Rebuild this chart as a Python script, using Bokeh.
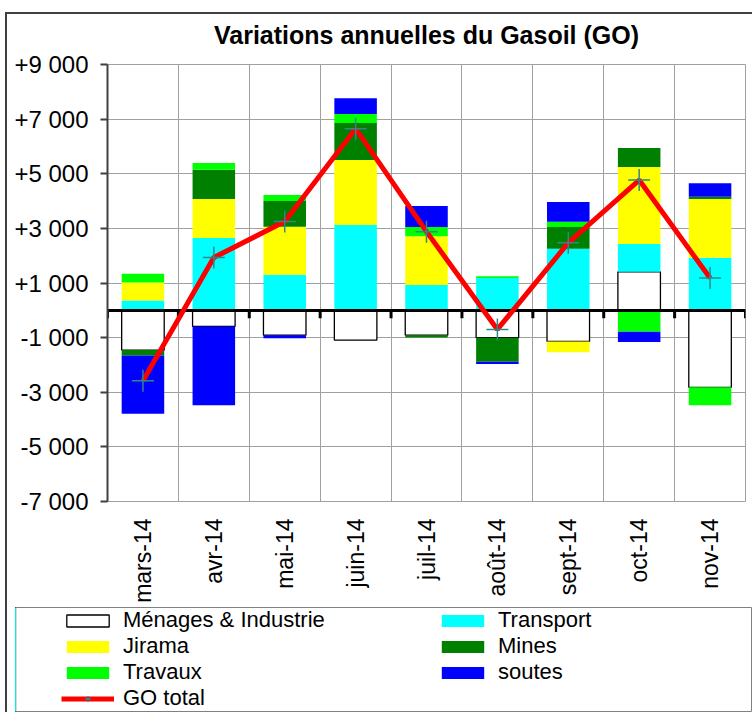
import numpy as np
from math import pi
from bokeh.plotting import figure
from bokeh.models import FixedTicker, Range1d, Legend, LegendItem
from bokeh.layouts import column
from bokeh.embed import file_html
from bokeh.resources import INLINE

# ---------------- data ----------------
months = ["mars-14", "avr-14", "mai-14", "juin-14", "juil-14",
          "août-14", "sept-14", "oct-14", "nov-14"]
menages   = [-1455, -590, -910, -1090, -910, -1005, -1140, 1410, -2820]
transport = [360, 2650, 1300, 3125, 930, 1180, 2250, 1020, 1920]
jirama    = [660, 1430, 1755, 2380, 1780, 0, -400, 2815, 2155]
mines     = [-200, 1070, 950, 1350, -85, -880, 800, 695, 85]
travaux   = [320, 245, 220, 330, 340, 70, 195, -785, -660]
soutes    = [-2130, -2890, -110, 575, 770, -85, 720, -375, 490]
go_total  = [-2580, 1930, 3250, 6650, 2880, -700, 2470, 4770, 1180]

series_names = ["Ménages & Industrie", "Transport", "Jirama", "Mines", "Travaux", "soutes"]
total_name = "GO total"
title_text = "Variations annuelles du Gasoil (GO)"
y_ticks = [-7000, -5000, -3000, -1000, 1000, 3000, 5000, 7000, 9000]
y_tick_labels = ["-7 000", "-5 000", "-3 000", "-1 000", "+1 000",
                 "+3 000", "+5 000", "+7 000", "+9 000"]

# ---------------- style / layout (page pixels) ----------------
FONT = "Liberation Sans"
fills = ["#FFFFFF", "#00FFFF", "#FFFF00", "#008000", "#00FF00", "#0000FF"]
lines = ["#000000", None, None, None, None, None]
GRID = "#a0a0a0"
BAR_W = 0.6
OX, OY = 5, 0                        # canvas origin on the page
W = 747
H1 = 606                             # main chart height
H2 = 106                             # legend panel height
FRAME_L, FRAME_R, FRAME_T, FRAME_B = 107 - OX, 745 - OX, 64 - OY, 501 - OY

n = len(months)
xc = np.arange(n) + 0.5
boundaries = np.arange(n + 1)

p = figure(width=W, height=H1, x_range=Range1d(0, n), y_range=Range1d(y_ticks[0], y_ticks[-1]),
           tools="", toolbar_location=None, output_backend="svg",
           min_border_left=FRAME_L, min_border_right=W - FRAME_R,
           min_border_top=FRAME_T, min_border_bottom=H1 - FRAME_B)
p.frame_align = False
p.background_fill_color = "white"
p.border_fill_color = None
p.outline_line_color = GRID
p.outline_line_width = 1

p.title.text = title_text
p.title.align = "center"
p.title.text_font = FONT
p.title.text_font_size = "25px"
p.title.text_font_style = "bold"
p.title.text_color = "#000000"
p.title.standoff = 32

# grids
p.xgrid.ticker = FixedTicker(ticks=[float(b) for b in boundaries[1:-1]])
p.ygrid.ticker = FixedTicker(ticks=y_ticks)
p.xgrid.grid_line_color = GRID
p.ygrid.grid_line_color = GRID

# axes
p.xaxis.ticker = FixedTicker(ticks=[float(v) for v in xc])
p.xaxis.major_label_overrides = {float(v): m for v, m in zip(xc, months)}
p.xaxis.major_label_orientation = pi / 2
p.xaxis.axis_line_color = None
p.xaxis.major_tick_line_color = None
p.xaxis.minor_tick_line_color = None
p.xaxis.major_label_standoff = 11
p.xaxis.major_label_text_font = FONT
p.xaxis.major_label_text_font_size = "23px"
p.xaxis.major_label_text_color = "#000000"

p.yaxis.ticker = FixedTicker(ticks=y_ticks)
p.yaxis.major_label_overrides = {t: l for t, l in zip(y_ticks, y_tick_labels)}
p.yaxis.axis_line_color = "#404040"
p.yaxis.axis_line_width = 2
p.yaxis.major_tick_line_color = "#404040"
p.yaxis.major_tick_line_width = 2
p.yaxis.major_tick_out = 7
p.yaxis.major_tick_in = 0
p.yaxis.minor_tick_line_color = None
p.yaxis.major_label_standoff = 12
p.yaxis.major_label_text_font = FONT
p.yaxis.major_label_text_font_size = "24px"
p.yaxis.major_label_text_color = "#000000"

# stacked bars (positive and negative parts stacked separately)
data = np.array([menages, transport, jirama, mines, travaux, soutes], dtype=float)
pos = np.clip(data, 0, None)
neg = np.clip(data, None, 0)
pos_top = np.cumsum(pos, axis=0)
pos_bot = pos_top - pos
neg_bot = np.cumsum(neg, axis=0)
neg_top = neg_bot - neg

for i in range(len(series_names)):
    for bot, top in ((pos_bot[i], pos_top[i]), (neg_bot[i], neg_top[i])):
        p.vbar(x=xc, width=BAR_W, bottom=bot, top=top,
               fill_color=fills[i], line_color=lines[i], line_width=1.3)

# zero axis line with tick marks at category boundaries
p.hspan(y=[0], line_color="#000000", line_width=3)
px_per_unit = (FRAME_B - FRAME_T) / float(y_ticks[-1] - y_ticks[0])
tick_len = 8 / px_per_unit
p.segment(x0=boundaries, y0=np.zeros(n + 1), x1=boundaries, y1=np.full(n + 1, -tick_len),
          line_color="#000000", line_width=3)

# GO total line
p.line(x=xc, y=go_total, line_color="#FF0000", line_width=5)
p.scatter(x=xc, y=go_total, marker="cross", size=22, line_color="#2a8a8a", line_width=1.5)

# ---------------- legend panel ----------------
p2 = figure(width=W, height=H2, x_range=Range1d(n + 10, n + 11), y_range=Range1d(0, 1),
            tools="", toolbar_location=None, output_backend="svg",
            x_axis_location=None, y_axis_location=None,
            min_border_left=15 - OX, min_border_right=1, min_border_top=1, min_border_bottom=1)
p2.frame_align = False
p2.grid.visible = False
p2.outline_line_color = "#808080"
p2.outline_line_width = 1
p2.background_fill_color = "white"
p2.border_fill_color = None

# legend-only copies of the series (their data lies outside this panel's ranges)
items = []
for i, name in enumerate(series_names):
    r = p2.vbar(x=xc, width=BAR_W, bottom=pos_bot[i], top=pos_top[i],
                fill_color=fills[i], line_color=lines[i], line_width=1.3)
    items.append(LegendItem(label=name, renderers=[r]))
rl = p2.line(x=xc, y=go_total, line_color="#FF0000", line_width=5)
rs = p2.scatter(x=xc, y=go_total, marker="cross", size=22, line_color="#2a8a8a", line_width=1.5)
items.append(LegendItem(label=total_name, renderers=[rl, rs]))

legend = Legend(items=items, location=(61 - 15, 0),
                orientation="horizontal", ncols=2,
                glyph_width=53, glyph_height=15, label_standoff=9, label_width=313,
                spacing=0, padding=0, margin=0,
                label_text_font=FONT, label_text_font_size="22px", label_text_color="#000000",
                border_line_alpha=0, background_fill_alpha=0)
p2.add_layout(legend)

# outer chart frame (left and top edges) painted behind the transparent canvas borders
frame_styles = {
    "margin-left": "5px",
    "background-image": "linear-gradient(#404040, #404040), linear-gradient(#404040, #404040)",
    "background-size": "100% 2px, 2px 100%",
    "background-position": "0px 12px, 0px 12px",
    "background-repeat": "no-repeat",
}
layout = column(p, p2, spacing=0, styles=frame_styles)
open("out.html", "w").write(file_html(layout, INLINE))
